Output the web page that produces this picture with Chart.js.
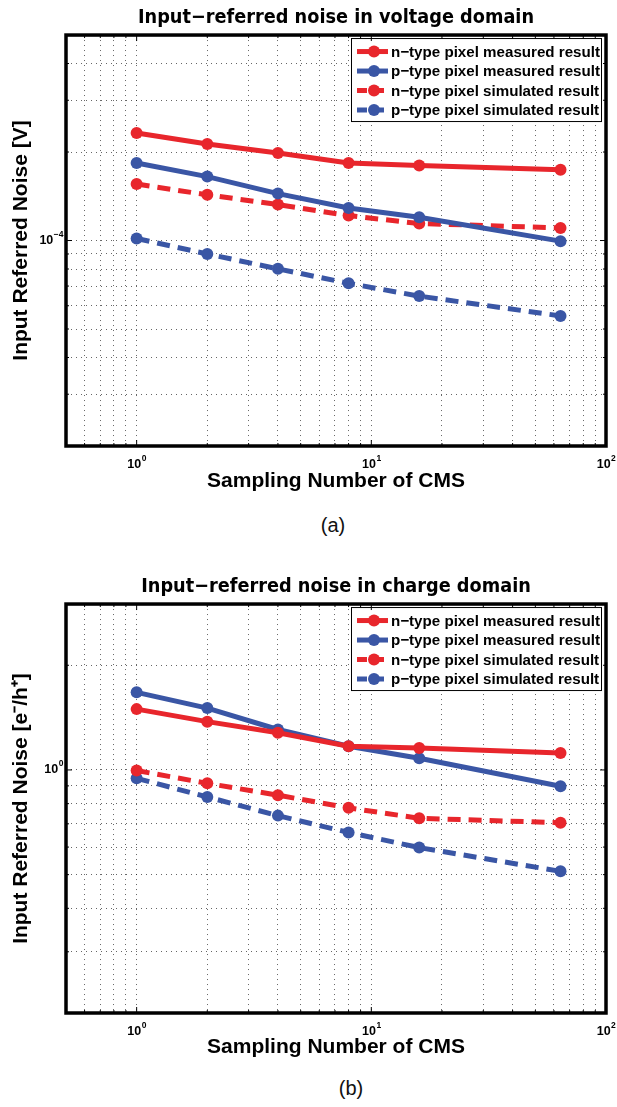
<!DOCTYPE html>
<html>
<head>
<meta charset="utf-8">
<script src="https://cdn.jsdelivr.net/npm/chart.js@4/dist/chart.umd.min.js"></script>
<style>
  body { margin: 0; background: #fff; width: 617px; height: 1107px; position: relative; overflow: hidden; }
  .wrap { position: absolute; left: 0; width: 617px; }
  .cap { position: absolute; font: 20px "Liberation Sans", Arial, sans-serif; transform: translate(-50%, -50%); color: #111; }
</style>
</head>
<body>
<div class="wrap" style="top:0;height:500px"><canvas id="chartA" width="617" height="500"></canvas></div>
<div class="wrap" style="top:569px;height:497px"><canvas id="chartB" width="617" height="497"></canvas></div>
<div class="cap" style="left:333px;top:525px">(a)</div>
<div class="cap" style="left:351px;top:1088px">(b)</div>
<script>
// sampling number of CMS (x)
const samplingNumbers = [1, 2, 4, 8, 16, 64];
const seriesLabels = [
  "n\u2212type pixel measured result",
  "p\u2212type pixel measured result",
  "n\u2212type pixel simulated result",
  "p\u2212type pixel simulated result"
];

// (a) voltage domain [V]
const voltNMeasured = [2.32e-4, 2.13e-4, 1.985e-4, 1.835e-4, 1.80e-4, 1.74e-4];
const voltPMeasured = [1.835e-4, 1.65e-4, 1.444e-4, 1.29e-4, 1.20e-4, 0.995e-4];
const voltNSimulated = [1.556e-4, 1.43e-4, 1.325e-4, 1.216e-4, 1.142e-4, 1.104e-4];
const voltPSimulated = [1.016e-4, 0.90e-4, 0.801e-4, 0.715e-4, 0.647e-4, 0.554e-4];

// (b) charge domain [e-/h+]
const chargeNMeasured = [1.496, 1.377, 1.279, 1.17, 1.156, 1.118];
const chargePMeasured = [1.672, 1.506, 1.307, 1.17, 1.081, 0.898];
const chargeNSimulated = [0.996, 0.915, 0.846, 0.778, 0.726, 0.705];
const chargePSimulated = [0.946, 0.836, 0.739, 0.661, 0.598, 0.511];

// labelled decades: value -> exponent text
const xDecades = [1, 10, 100];
const xDecadeExp = ["0", "1", "2"];
const yDecadesA = [1e-4];
const yDecadeExpA = ["\u22124"];
const yDecadesB = [1];
const yDecadeExpB = ["0"];

const RED = "#E8262C";
const BLUE = "#3A56A5";
const NARROW = '"Liberation Sans Narrow", "DejaVu Sans Condensed", "Liberation Sans", sans-serif';
const SANS = '"Liberation Sans", Arial, sans-serif';

function pts(ys) {
  return samplingNumbers.map((x, i) => ({ x: x, y: ys[i] }));
}

function makeSets(nm, pm, ns, ps) {
  const base = { borderWidth: 5, pointRadius: 6, pointHoverRadius: 6, pointBorderWidth: 0, tension: 0, fill: false };
  return [
    Object.assign({ label: seriesLabels[0], data: pts(nm), borderColor: RED, pointBackgroundColor: RED }, base),
    Object.assign({ label: seriesLabels[1], data: pts(pm), borderColor: BLUE, pointBackgroundColor: BLUE }, base),
    Object.assign({ label: seriesLabels[2], data: pts(ns), borderColor: RED, pointBackgroundColor: RED, borderDash: [13, 8] }, base),
    Object.assign({ label: seriesLabels[3], data: pts(ps), borderColor: BLUE, pointBackgroundColor: BLUE, borderDash: [13, 8] }, base)
  ];
}

// 1..9 x 10^k ticks strictly inside the range
function logTicks(scale) {
  const out = [];
  const lo = Math.floor(Math.log10(scale.min)), hi = Math.ceil(Math.log10(scale.max));
  for (let e = lo; e <= hi; e++) {
    for (let m = 1; m <= 9; m++) {
      const v = parseFloat((m * Math.pow(10, e)).toPrecision(6));
      if (v > scale.min * 1.0001 && v < scale.max * 0.9999) out.push({ value: v, major: m === 1 });
    }
  }
  scale.ticks = out;
}

function drawPow(ctx, exp, x, y, align) {
  const bigFont = "bold 12.5px " + SANS, smallFont = "bold 8.5px " + SANS;
  ctx.font = bigFont;
  const bw = ctx.measureText("10").width;
  ctx.font = smallFont;
  const ew = ctx.measureText(exp).width;
  const x0 = align === "center" ? x - (bw + ew) / 2 : x - bw - ew;
  ctx.fillStyle = "#000";
  ctx.textAlign = "left";
  ctx.textBaseline = "middle";
  ctx.font = bigFont;
  ctx.fillText("10", x0, y);
  ctx.font = smallFont;
  ctx.fillText(exp, x0 + bw + 0.5, y - 6);
}

// thick box, inward ticks and decade labels
const matlabFrame = {
  id: "matlabFrame",
  afterDraw(chart, args, opts) {
    const { ctx, chartArea: a, scales } = chart;
    ctx.save();
    ctx.strokeStyle = "#000";
    ctx.lineWidth = 1;
    scales.x.ticks.forEach(t => {
      const px = scales.x.getPixelForValue(t.value);
      const len = t.major ? 6 : 3;
      ctx.beginPath();
      ctx.moveTo(px, a.bottom); ctx.lineTo(px, a.bottom - len);
      ctx.moveTo(px, a.top); ctx.lineTo(px, a.top + len);
      ctx.stroke();
    });
    scales.y.ticks.forEach(t => {
      const py = scales.y.getPixelForValue(t.value);
      const len = t.major ? 6 : 3;
      ctx.beginPath();
      ctx.moveTo(a.left, py); ctx.lineTo(a.left + len, py);
      ctx.moveTo(a.right, py); ctx.lineTo(a.right - len, py);
      ctx.stroke();
    });
    ctx.lineWidth = 3.5;
    ctx.strokeRect(a.left, a.top, a.right - a.left, a.bottom - a.top);
    xDecades.forEach((v, i) => drawPow(ctx, xDecadeExp[i], scales.x.getPixelForValue(v), a.bottom + 19, "center"));
    opts.yDecades.forEach((v, i) => drawPow(ctx, opts.yExp[i], a.left - 3, scales.y.getPixelForValue(v), "right"));
    ctx.restore();
  }
};

// MATLAB style legend box in the upper right corner
const boxLegend = {
  id: "boxLegend",
  afterDatasetsDraw(chart) {
    const { ctx, chartArea: a } = chart;
    const left = 351, right = a.right - 5, top = a.top + 3, bottom = a.top + 86;
    const textX = 391, textW = right - textX - 1;
    ctx.save();
    ctx.fillStyle = "#fff";
    ctx.fillRect(left, top, right - left, bottom - top);
    ctx.strokeStyle = "#000";
    ctx.lineWidth = 1;
    ctx.strokeRect(left + 0.5, top + 0.5, right - left, bottom - top);
    ctx.font = "bold 15.5px " + SANS;
    const widest = Math.max(...chart.data.datasets.map(ds => ctx.measureText(ds.label).width));
    const sx = textW / widest;
    chart.data.datasets.forEach((ds, i) => {
      const y = top + 13.5 + i * 19.5;
      ctx.strokeStyle = ds.borderColor;
      ctx.lineWidth = 5;
      ctx.setLineDash(ds.borderDash ? [10, 7] : []);
      ctx.beginPath();
      ctx.moveTo(357, y); ctx.lineTo(388, y);
      ctx.stroke();
      ctx.setLineDash([]);
      ctx.fillStyle = ds.borderColor;
      ctx.beginPath();
      ctx.arc(374, y, 6, 0, Math.PI * 2);
      ctx.fill();
      // condensed label, like a narrow bold face
      ctx.save();
      ctx.translate(textX, y + 1);
      ctx.scale(sx, 1);
      ctx.fillStyle = "#000";
      ctx.textAlign = "left";
      ctx.textBaseline = "middle";
      ctx.fillText(ds.label, 0, 0);
      ctx.restore();
    });
    ctx.restore();
  }
};

function makeChart(id, title, yTitle, sets, yMin, yMax, areaBottom, yDecades, yExp) {
  const canvas = document.getElementById(id);
  return new Chart(canvas, {
    type: "line",
    data: { datasets: sets },
    plugins: [boxLegend, matlabFrame],
    options: {
      responsive: false,
      animation: false,
      layout: { padding: { left: 0, right: 11, top: 0, bottom: 0 } },
      plugins: {
        legend: { display: false },
        tooltip: { enabled: false },
        title: {
          display: true,
          text: title,
          fullSize: false,
          color: "#000",
          font: { family: NARROW, size: 19.7, weight: "bold", lineHeight: 1.2 },
          padding: { top: 6, bottom: 5.4 }
        },
        matlabFrame: { yDecades: yDecades, yExp: yExp }
      },
      scales: {
        x: {
          type: "logarithmic",
          position: "bottom",
          min: 0.5,
          max: 100,
          afterBuildTicks: logTicks,
          afterFit: s => { s.height = canvas.height - areaBottom; },
          ticks: { display: false },
          border: { display: false, dash: [1, 4] },
          grid: { color: "rgba(0,0,0,0.6)", lineWidth: 1, drawTicks: false },
          title: {
            display: true,
            text: "Sampling Number of CMS",
            color: "#000",
            font: { family: SANS, size: 21, weight: "bold", lineHeight: 1.2 },
            padding: { bottom: 6.4 }
          }
        },
        y: {
          type: "logarithmic",
          min: yMin,
          max: yMax,
          afterBuildTicks: logTicks,
          afterFit: s => { s.width = 66; },
          ticks: { display: false },
          border: { display: false, dash: [1, 4] },
          grid: { color: "rgba(0,0,0,0.6)", lineWidth: 1, drawTicks: false },
          title: {
            display: true,
            text: yTitle,
            color: "#000",
            font: { family: SANS, size: 21, weight: "bold", lineHeight: 1.2 },
            padding: { top: 8.5 }
          }
        }
      }
    }
  });
}

makeChart("chartA", "Input\u2212referred noise in voltage domain", "Input Referred Noise [V]",
  makeSets(voltNMeasured, voltPMeasured, voltNSimulated, voltPSimulated), 2e-5, 5e-4, 446, yDecadesA, yDecadeExpA);
makeChart("chartB", "Input\u2212referred noise in charge domain", "Input Referred Noise [e\u207B/h\u207A]",
  makeSets(chargeNMeasured, chargePMeasured, chargeNSimulated, chargePSimulated), 0.2, 3, 444, yDecadesB, yDecadeExpB);
</script>
</body>
</html>
